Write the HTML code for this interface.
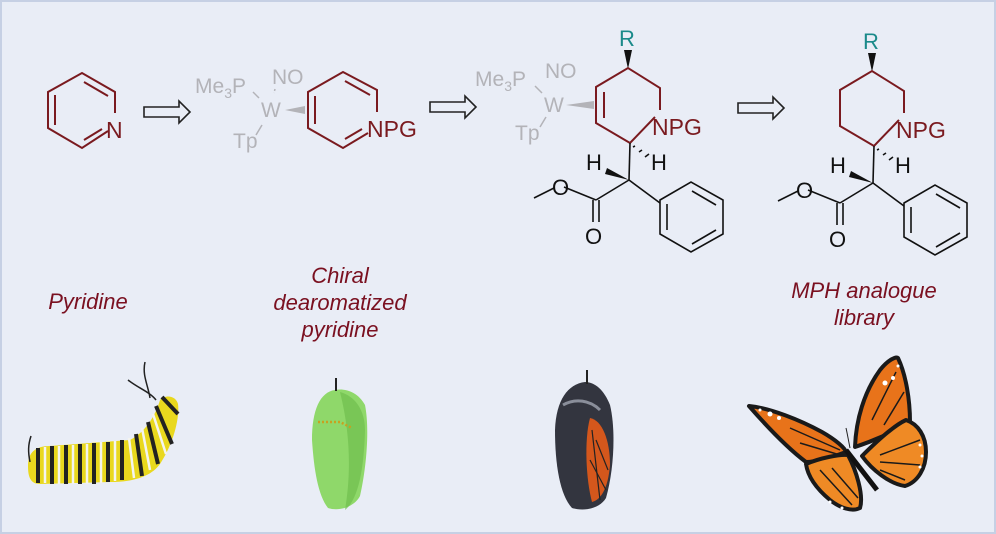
<!DOCTYPE html>
<html><head><meta charset="utf-8"><style>
html,body{margin:0;padding:0;background:#e9edf6}
svg{display:block}
text{font-family:"Liberation Sans",Arial,sans-serif}
</style></head><body>
<svg width="996" height="534" viewBox="0 0 996 534" xmlns="http://www.w3.org/2000/svg">
<rect x="1" y="1" width="994" height="532" fill="#e9edf6" stroke="#c6d0e4" stroke-width="2"/>

<!-- Pyridine -->
<g fill="none" stroke="#7a1a1f" stroke-width="2">
<polyline points="108,131 82,148 48,128 48,92 82,73 115,92 115,113"/>
<line x1="55" y1="95" x2="55" y2="125"/>
<line x1="84" y1="82" x2="108" y2="96"/>
<line x1="84" y1="140" x2="102" y2="129"/>
</g>
<text x="106" y="138" font-size="23" fill="#7a1a1f">N</text>

<!-- arrows -->
<g fill="none" stroke="#222" stroke-width="1.6">
<path d="M144,107 H179 V101 L190,112 L179,123 V117 H144 Z"/>
<path d="M430,102 H465 V96 L476,107 L465,118 V112 H430 Z"/>
<path d="M738,103 H773 V97 L784,108 L773,119 V113 H738 Z"/>
</g>

<!-- complex 1 -->
<g fill="#b3b3b8" font-size="21">
<text x="195" y="93">Me<tspan font-size="14" dy="5">3</tspan><tspan dy="-5">P</tspan></text>
<text x="272" y="84">NO</text>
<text x="261" y="117">W</text>
<text x="233" y="148">Tp</text>
</g>
<g stroke="#b3b3b8" stroke-width="1.5">
<line x1="253" y1="92" x2="259" y2="98"/>
<line x1="275" y1="89" x2="274" y2="93" stroke-dasharray="2,2"/>
<line x1="262" y1="125" x2="256" y2="135"/>
</g>
<polygon points="285,110 305,106 305,114" fill="#b3b3b8"/>
<g fill="none" stroke="#7a1a1f" stroke-width="2">
<polyline points="368,133 343,148 308,128 308,92 343,72 377,90 377,112"/>
<line x1="315" y1="96" x2="315" y2="124"/>
<line x1="345" y1="81" x2="370" y2="95"/>
<line x1="345" y1="139" x2="362" y2="129"/>
</g>
<text x="367" y="137" font-size="23" fill="#7a1a1f">NPG</text>

<!-- complex 2 and 3 -->
<g id="c2">
<text x="619" y="46" font-size="22" fill="#1a8a8a">R</text>
<polygon points="628,69 624,50 632,50" fill="#111"/>
<g fill="none" stroke="#7a1a1f" stroke-width="2">
<polyline points="655,117 630,143 596,123 596,87 628,68 660,88 660,110"/>
</g>
<text x="652" y="135" font-size="23" fill="#7a1a1f">NPG</text>
<g stroke="#111" stroke-width="1.6">
<line x1="633" y1="147" x2="635" y2="146"/><line x1="639" y1="152" x2="642" y2="150"/><line x1="645" y1="157" x2="649" y2="154"/>
<line x1="630" y1="143" x2="629" y2="180"/>
<line x1="629" y1="180" x2="660" y2="203"/>
<line x1="629" y1="180" x2="596" y2="200"/>
<line x1="596" y1="200" x2="564" y2="187"/>
<line x1="554" y1="188" x2="534" y2="198"/>
<line x1="593" y1="200" x2="593" y2="222"/>
<line x1="599" y1="200" x2="599" y2="222"/>
</g>
<polygon points="629,180 607,168 605,174" fill="#111"/>
<g fill="none" stroke="#111" stroke-width="1.6">
<polygon points="660,200 691,182 723,200 723,234 691,252 660,234"/>
<line x1="667" y1="204" x2="667" y2="230"/>
<line x1="692" y1="191" x2="716" y2="205"/>
<line x1="692" y1="244" x2="716" y2="230"/>
</g>
<g font-size="22" fill="#111">
<text x="651" y="170">H</text>
<text x="586" y="170">H</text>
<text x="552" y="195">O</text>
<text x="585" y="244">O</text>
</g>
</g>
<line x1="604" y1="92" x2="604" y2="118" stroke="#7a1a1f" stroke-width="2"/>
<g fill="#b3b3b8" font-size="21">
<text x="475" y="86">Me<tspan font-size="14" dy="5">3</tspan><tspan dy="-5">P</tspan></text>
<text x="545" y="78">NO</text>
<text x="544" y="112">W</text>
<text x="515" y="140">Tp</text>
</g>
<g stroke="#b3b3b8" stroke-width="1.5">
<line x1="535" y1="86" x2="542" y2="93"/>
<line x1="546" y1="117" x2="540" y2="127"/>
</g>
<polygon points="566,105 594,101 594,109" fill="#b3b3b8"/>

<use href="#c2" transform="translate(244,3)"/>

<!-- labels -->
<g font-size="22" font-style="italic" fill="#7a1020" text-anchor="middle">
<text x="88" y="309">Pyridine</text>
<text x="340" y="283">Chiral</text>
<text x="340" y="310">dearomatized</text>
<text x="340" y="337">pyridine</text>
<text x="864" y="298">MPH analogue</text>
<text x="864" y="325">library</text>
</g>

<!-- caterpillar -->
<g>
<path d="M28,466 C28,452 36,446 50,446 L130,440 C146,432 156,414 160,400 C166,394 176,396 178,404 C180,420 172,446 160,464 C150,478 130,482 110,482 L40,484 C30,484 28,476 28,466 Z" fill="#e9d81e"/>
<g stroke="#222" stroke-width="4">
<line x1="38" y1="448" x2="38" y2="483"/><line x1="52" y1="446" x2="52" y2="484"/><line x1="66" y1="445" x2="66" y2="484"/><line x1="80" y1="444" x2="80" y2="484"/><line x1="94" y1="443" x2="94" y2="484"/><line x1="108" y1="442" x2="108" y2="482"/><line x1="122" y1="440" x2="122" y2="480"/><line x1="136" y1="434" x2="142" y2="476"/><line x1="148" y1="422" x2="158" y2="464"/><line x1="156" y1="406" x2="172" y2="444"/><line x1="162" y1="397" x2="178" y2="414"/>
</g>
<g stroke="#f4f4f0" stroke-width="2.5">
<line x1="45" y1="447" x2="45" y2="483"/><line x1="59" y1="446" x2="59" y2="484"/><line x1="73" y1="445" x2="73" y2="484"/><line x1="87" y1="444" x2="87" y2="484"/><line x1="101" y1="442" x2="101" y2="483"/><line x1="115" y1="441" x2="115" y2="481"/><line x1="129" y1="438" x2="134" y2="478"/><line x1="142" y1="428" x2="150" y2="470"/><line x1="153" y1="414" x2="166" y2="454"/>
</g>
<g stroke="#222" stroke-width="1.5" fill="none">
<path d="M150,398 C148,385 142,375 145,362"/><path d="M156,400 C150,392 138,388 128,380"/><path d="M30,462 C28,452 28,445 31,436"/>
</g>
</g>

<!-- green chrysalis -->
<path d="M335,390 C320,392 312,410 312,440 C314,470 318,495 328,508 C340,512 355,506 360,496 C366,470 370,430 365,405 C358,392 345,388 335,390 Z" fill="#8fd86a"/>
<path d="M340,392 C355,396 365,410 365,430 C364,470 358,500 345,510 C350,480 352,440 340,392 Z" fill="#6fbf4e" opacity="0.7"/>
<line x1="336" y1="378" x2="336" y2="391" stroke="#222" stroke-width="2"/>
<path d="M318,422 L340,422 L352,428" stroke="#c8a020" stroke-width="2.5" fill="none" stroke-dasharray="2,2"/>

<!-- dark chrysalis -->
<path d="M585,382 C568,384 556,400 555,430 C555,465 560,495 572,508 C585,512 600,508 606,498 C614,470 616,430 610,405 C604,390 595,382 585,382 Z" fill="#33353f"/>
<path d="M590,418 C602,420 610,440 610,465 C608,490 600,500 592,502 C586,480 584,440 590,418 Z" fill="#d4571c"/>
<g stroke="#222" stroke-width="1.2" fill="none"><path d="M592,430 L600,500"/><path d="M596,440 L608,470"/><path d="M590,460 L606,490"/></g>
<path d="M563,405 C575,398 590,400 600,410" stroke="#8a8e9a" stroke-width="3" fill="none"/>
<line x1="587" y1="370" x2="587" y2="384" stroke="#222" stroke-width="2"/>

<!-- butterfly -->
<g stroke="#1a1a1a" stroke-width="4" stroke-linejoin="round">
<path d="M749,406 C770,408 800,420 822,432 C836,440 845,448 846,452 C830,458 815,462 806,462 C790,450 770,430 749,406 Z" fill="#e8731a"/>
<path d="M806,464 C820,458 840,454 848,455 C856,470 864,495 860,508 C852,512 840,508 830,500 C818,490 808,478 806,464 Z" fill="#ef8a25"/>
<path d="M855,447 C856,420 864,392 880,370 C888,360 896,356 898,358 C906,375 910,400 910,422 C895,432 870,442 855,447 Z" fill="#e8731a"/>
<path d="M862,456 C878,440 895,425 906,420 C918,424 926,436 926,452 C926,468 918,482 905,486 C890,484 872,470 862,456 Z" fill="#ef8a25"/>
</g>
<g stroke="#1a1a1a" stroke-width="1.5" fill="none">
<path d="M790,428 L840,450"/><path d="M800,443 L840,455"/><path d="M820,470 L852,505"/><path d="M832,468 L858,498"/>
<path d="M872,420 L896,372"/><path d="M884,425 L904,392"/><path d="M880,455 L920,440"/><path d="M880,462 L920,465"/><path d="M880,470 L905,480"/>
</g>
<path d="M846,450 L877,490" stroke="#111" stroke-width="5"/>
<path d="M850,448 C848,438 847,432 846,428" stroke="#222" stroke-width="1" fill="none"/>
<g fill="#fff">
<circle cx="770" cy="414" r="2.5"/><circle cx="779" cy="418" r="2"/><circle cx="760" cy="410" r="1.5"/><circle cx="885" cy="383" r="2.5"/><circle cx="893" cy="378" r="2"/><circle cx="898" cy="366" r="1.5"/><circle cx="920" cy="445" r="1.5"/><circle cx="922" cy="456" r="1.5"/><circle cx="920" cy="467" r="1.5"/><circle cx="830" cy="502" r="1.5"/><circle cx="842" cy="508" r="1.5"/>
</g>
</svg>
</body></html>
